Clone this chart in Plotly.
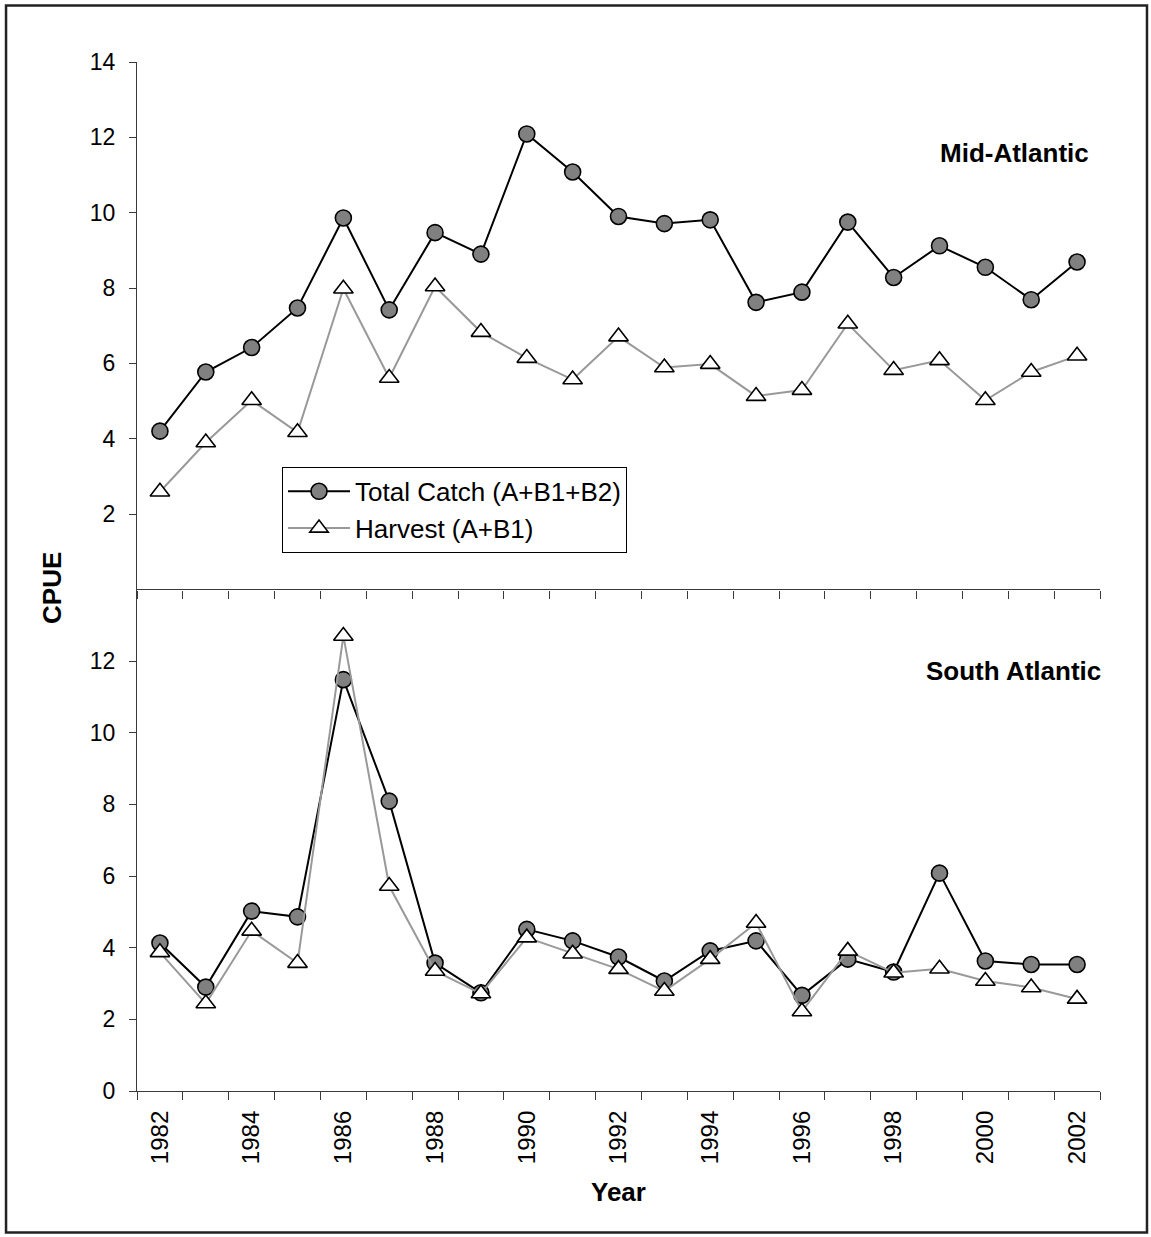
import plotly.graph_objects as go

# CPUE by year for the two regions
years = list(range(1982, 2003))

mid_total = [4.2, 5.77, 6.42, 7.47, 9.86, 7.42, 9.47, 8.90, 12.09, 11.08, 9.90,
             9.71, 9.81, 7.62, 7.89, 9.75, 8.28, 9.12, 8.55, 7.69, 8.69]
mid_harvest = [2.59, 3.90, 5.02, 4.17, 7.98, 5.61, 8.04, 6.83, 6.14, 5.57, 6.71,
               5.89, 5.98, 5.13, 5.29, 7.05, 5.82, 6.08, 5.02, 5.77, 6.20]
south_total = [4.13, 2.90, 5.02, 4.86, 11.48, 8.09, 3.57, 2.74, 4.51, 4.19, 3.74,
               3.07, 3.91, 4.19, 2.67, 3.68, 3.32, 6.08, 3.63, 3.53, 3.53]
south_harvest = [3.87, 2.44, 4.47, 3.57, 12.70, 5.72, 3.35, 2.72, 4.28, 3.83, 3.40,
                 2.79, 3.68, 4.69, 2.22, 3.91, 3.30, 3.41, 3.07, 2.89, 2.57]

series_names = ["Total Catch (A+B1+B2)", "Harvest (A+B1)"]
panel_titles = ["Mid-Atlantic", "South Atlantic"]
top_ticks = [2, 4, 6, 8, 10, 12, 14]
bottom_ticks = [0, 2, 4, 6, 8, 10, 12]
all_ticks = list(range(0, 15, 2))
year_labels = years[::2]

FONT = "Liberation Sans, Arial, sans-serif"
AXIS_COLOR = "#3a3a3a"

# category boundaries (tick marks sit between the years)
bounds = [y - 0.5 for y in years] + [years[-1] + 0.5]
xrange = [bounds[0], bounds[-1]]

total_style = dict(
    mode="lines+markers",
    line=dict(color="black", width=2),
    marker=dict(symbol="circle", size=16, color="#808080",
                line=dict(color="black", width=1.6)),
)
harvest_style = dict(
    mode="lines+markers",
    line=dict(color="#999999", width=2),
    marker=dict(symbol="triangle-up", size=17, color="white",
                line=dict(color="black", width=1.6)),
)

fig = go.Figure()
fig.add_trace(go.Scatter(x=years, y=mid_total, name=series_names[0],
                         xaxis="x", yaxis="y", legendgroup="t", **total_style))
fig.add_trace(go.Scatter(x=years, y=mid_harvest, name=series_names[1],
                         xaxis="x", yaxis="y", legendgroup="h", **harvest_style))
fig.add_trace(go.Scatter(x=years, y=south_total, name=series_names[0],
                         xaxis="x2", yaxis="y2", showlegend=False, **total_style))
fig.add_trace(go.Scatter(x=years, y=south_harvest, name=series_names[1],
                         xaxis="x2", yaxis="y2", showlegend=False, **harvest_style))

tick_font = dict(family=FONT, size=23, color="black")
split = 0.4875

base_x = dict(range=xrange, showgrid=False, zeroline=False,
              linecolor=AXIS_COLOR, linewidth=1.3)
base_y = dict(range=[0, 14], showgrid=False, zeroline=False,
              linecolor=AXIS_COLOR, linewidth=1.3)

fig.update_layout(
    width=1151, height=1237,
    margin=dict(l=137, r=51, t=62, b=146),
    paper_bgcolor="white", plot_bgcolor="white",
    font=dict(family=FONT, color="black"),
    # top panel
    xaxis=dict(**base_x, domain=[0, 1], anchor="y", showline=True,
               tickmode="array", tickvals=bounds, ticks="outside", ticklen=8,
               tickcolor=AXIS_COLOR, tickwidth=1.3, showticklabels=False),
    xaxis3=dict(**base_x, overlaying="x", anchor="y", side="bottom", showline=False,
                tickmode="array", tickvals=bounds, ticks="inside", ticklen=8,
                tickcolor=AXIS_COLOR, tickwidth=1.3, showticklabels=False),
    yaxis=dict(**base_y, domain=[split, 1], anchor="x", showline=True,
               tickmode="array", tickvals=top_ticks, ticks="outside", ticklen=7,
               tickcolor=AXIS_COLOR, tickwidth=1.3, tickfont=tick_font,
               ticklabelstandoff=9),
    yaxis3=dict(**base_y, overlaying="y", anchor="x", side="left", showline=False,
                tickmode="array", tickvals=all_ticks, ticks="inside", ticklen=8,
                tickcolor=AXIS_COLOR, tickwidth=1.3, showticklabels=False),
    # bottom panel
    xaxis2=dict(**base_x, domain=[0, 1], anchor="y2", showline=True,
                tickmode="array", tickvals=year_labels,
                ticktext=[str(y) for y in year_labels], ticks="",
                tickangle=-90, tickfont=dict(family=FONT, size=24, color="black"),
                ticklabelstandoff=9,
                minor=dict(tickmode="array", tickvals=bounds, ticks="outside",
                           ticklen=8, tickcolor=AXIS_COLOR, tickwidth=1.3)),
    xaxis4=dict(**base_x, overlaying="x2", anchor="y2", side="bottom", showline=False,
                tickmode="array", tickvals=bounds, ticks="inside", ticklen=8,
                tickcolor=AXIS_COLOR, tickwidth=1.3, showticklabels=False),
    yaxis2=dict(**base_y, domain=[0, split], anchor="x2", showline=True,
                tickmode="array", tickvals=bottom_ticks, ticks="outside", ticklen=7,
                tickcolor=AXIS_COLOR, tickwidth=1.3, tickfont=tick_font,
                ticklabelstandoff=9),
    yaxis4=dict(**base_y, overlaying="y2", anchor="x2", side="left", showline=False,
                tickmode="array", tickvals=all_ticks, ticks="inside", ticklen=8,
                tickcolor=AXIS_COLOR, tickwidth=1.3, showticklabels=False),
    legend=dict(x=0.1506, y=0.6065, xanchor="left", yanchor="top",
                bgcolor="white", bordercolor="black", borderwidth=1,
                font=dict(family=FONT, size=26, color="black"),
                tracegroupgap=0, itemwidth=62),
    showlegend=True,
)

annotations = [
    dict(text="<b>%s</b>" % panel_titles[0], x=0.9907, y=0.9111,
         xanchor="right", yanchor="middle"),
    dict(text="<b>%s</b>" % panel_titles[1], x=1.0031, y=0.4081,
         xanchor="right", yanchor="middle"),
    dict(text="<b>CPUE</b>", x=-0.0883, y=0.4888, textangle=-90,
         xanchor="center", yanchor="middle"),
    dict(text="<b>Year</b>", x=0.5, y=-0.0985,
         xanchor="center", yanchor="middle"),
]
for a in annotations:
    fig.add_annotation(xref="paper", yref="paper", showarrow=False,
                       font=dict(family=FONT, size=26, color="black"), **a)

# frame around the whole chart
fig.add_shape(type="rect", xref="paper", yref="paper",
              x0=-0.136, x1=1.0488, y0=-0.1374, y1=1.0548,
              line=dict(color="#222222", width=2.5), layer="above")

fig.write_html("out.html")
